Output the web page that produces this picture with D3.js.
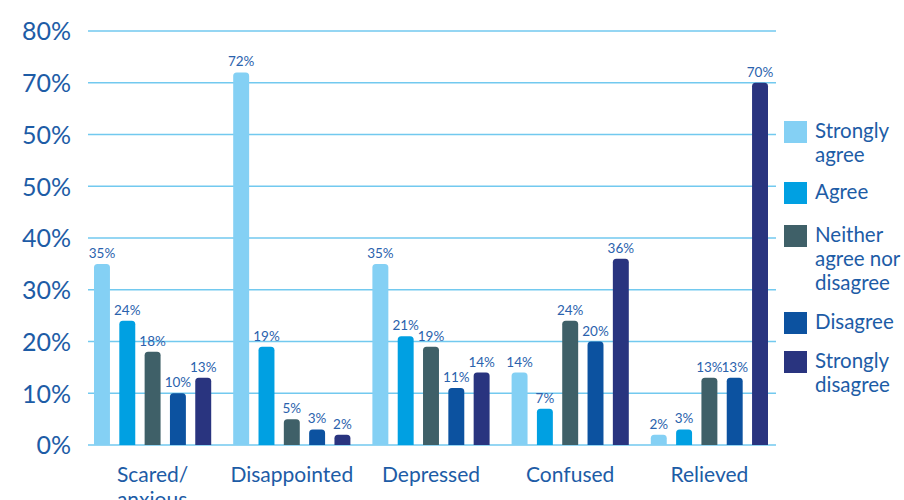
<!DOCTYPE html>
<html>
<head>
<meta charset="utf-8">
<script src="https://cdn.jsdelivr.net/npm/d3@7"></script>
<style>
  html, body { margin: 0; padding: 0; background: #ffffff; }
  svg { display: block; font-family: Lato, "Open Sans", sans-serif; }
</style>
</head>
<body>
<svg id="chart" width="904" height="500"></svg>
<script>
// Survey responses by feeling (percent of respondents)
const categories = ["Scared/\nanxious", "Disappointed", "Depressed", "Confused", "Relieved"];
const seriesNames = ["Strongly\nagree", "Agree", "Neither\nagree nor\ndisagree", "Disagree", "Strongly\ndisagree"];
const stronglyAgree    = [35, 72, 35, 14, 2];
const agree            = [24, 19, 21, 7, 3];
const neither          = [18, 5, 19, 24, 13];
const disagree         = [10, 3, 11, 20, 13];
const stronglyDisagree = [13, 2, 14, 36, 70];
const tickValues = [0, 10, 20, 30, 40, 50, 60, 70, 80];
const tickLabels = ["0%", "10%", "20%", "30%", "40%", "50%", "50%", "70%", "80%"];

const colors = ["#84d0f4", "#00a0e2", "#3f6068", "#0c52a0", "#29347f"];
const textColor = "#1d5ca6";

const seriesValues = [stronglyAgree, agree, neither, disagree, stronglyDisagree];

const svg = d3.select("#chart");

const y = d3.scaleLinear().domain([0, 80]).range([445, 31]);
const x0 = d3.scaleBand().domain(categories).range([94, 768]).paddingInner(0.158).paddingOuter(0);
const x1 = d3.scaleBand().domain(d3.range(seriesNames.length)).range([0, x0.bandwidth()]).paddingInner(0.37).paddingOuter(0);

// Horizontal gridlines with tick labels
const yAxis = d3.axisLeft(y)
  .tickValues(tickValues)
  .tickSize(0)
  .tickPadding(0)
  .tickFormat((d, i) => tickLabels[i]);

const gAxis = svg.append("g").attr("transform", "translate(71,0)").call(yAxis);
gAxis.select(".domain").remove();
gAxis.selectAll("text")
  .attr("fill", textColor)
  .attr("font-size", 25)
  .attr("font-family", "Lato, sans-serif")
  .attr("dy", "0.35em");

svg.append("g").selectAll("line")
  .data(tickValues)
  .join("line")
  .attr("x1", 88).attr("x2", 776)
  .attr("y1", d => y(d)).attr("y2", d => y(d))
  .attr("stroke", "#72c9ef")
  .attr("stroke-width", 1.6);

// Bar with rounded top corners
function barPath(x, w, top, bottom, r) {
  r = Math.min(r, (bottom - top), w / 2);
  return `M${x},${bottom}V${top + r}Q${x},${top} ${x + r},${top}H${x + w - r}Q${x + w},${top} ${x + w},${top + r}V${bottom}Z`;
}

const groups = svg.append("g").selectAll("g")
  .data(categories)
  .join("g")
  .attr("transform", d => `translate(${x0(d)},0)`);

const cells = groups.selectAll("g")
  .data((d, ci) => seriesValues.map((vals, si) => ({ si, v: vals[ci] })))
  .join("g");

cells.append("path")
  .attr("d", d => barPath(x1(d.si), x1.bandwidth(), y(d.v), y(0), 3.5))
  .attr("fill", d => colors[d.si]);

cells.append("text")
  .attr("x", d => x1(d.si) + x1.bandwidth() / 2)
  .attr("y", d => y(d.v) - 6)
  .attr("text-anchor", "middle")
  .attr("font-size", 13.5)
  .attr("fill", "#2a62ad")
  .text(d => d.v + "%");

// Category labels (multi-line, left-aligned block centred under each group)
groups.each(function(d) {
  const g = d3.select(this);
  const lines = d.split("\n");
  const t = g.append("text")
    .attr("font-size", 21)
    .attr("fill", textColor);
  lines.forEach((ln, i) => {
    t.append("tspan").attr("x", 0).attr("y", 482 + i * 25).text(ln);
  });
  const w = t.node().getBBox().width;
  t.attr("transform", `translate(${x0.bandwidth() / 2 - w / 2},0)`);
});

// Legend
const legendTops = [121, 182, 225, 312, 351];
const legend = svg.append("g").selectAll("g")
  .data(seriesNames)
  .join("g")
  .attr("transform", (d, i) => `translate(784,${legendTops[i]})`);

legend.append("rect")
  .attr("width", 23).attr("height", 22)
  .attr("fill", (d, i) => colors[i]);

legend.append("text")
  .attr("font-size", 20.5)
  .attr("fill", textColor)
  .each(function(d) {
    const t = d3.select(this);
    d.split("\n").forEach((ln, i) => {
      t.append("tspan").attr("x", 31).attr("y", 17 + i * 24).text(ln);
    });
  });
</script>
</body>
</html>
